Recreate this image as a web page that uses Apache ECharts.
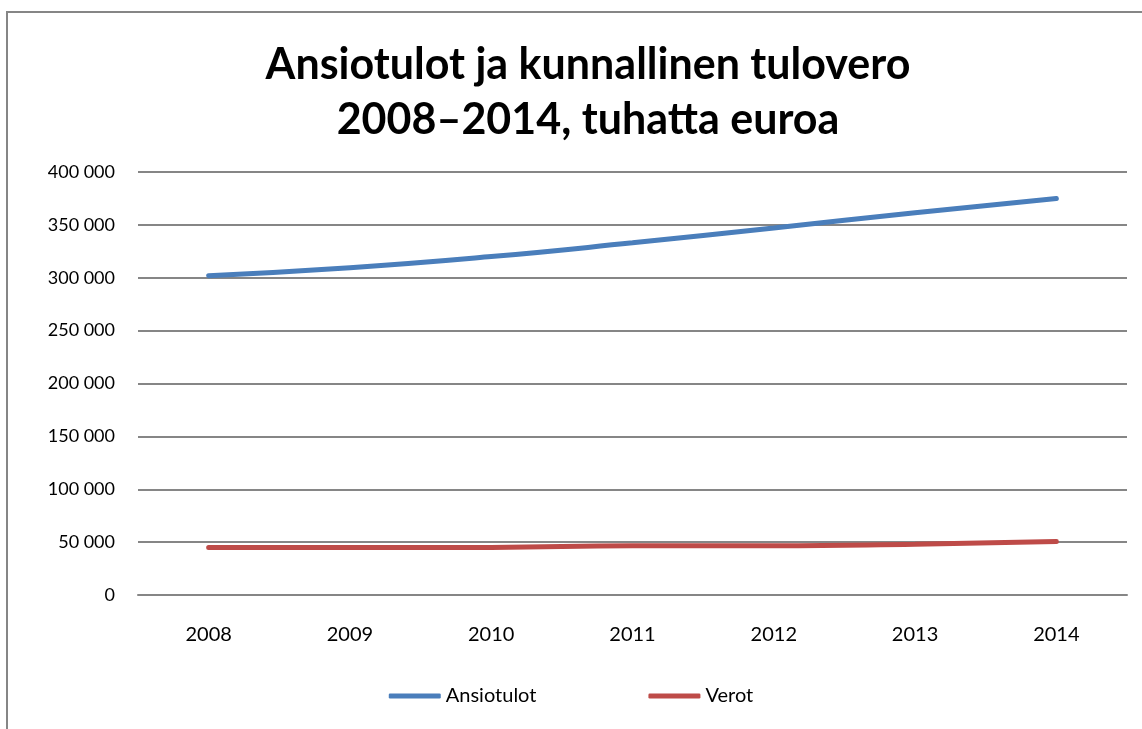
<!DOCTYPE html>
<html>
<head>
<meta charset="utf-8">
<script src="https://cdn.jsdelivr.net/npm/echarts@6/dist/echarts.min.js"></script>
<style>
html,body{margin:0;padding:0;background:#fff;}
#main{width:1142px;height:729px;}
</style>
</head>
<body>
<div id="main"></div>
<script>
// vuodet ja arvot (tuhatta euroa)
var years = ['2008', '2009', '2010', '2011', '2012', '2013', '2014'];
var ansiotulot = [302000, 309500, 320000, 333000, 347000, 361500, 375000];
var verot = [45000, 45000, 45000, 46500, 46500, 48000, 50500];
var yTicks = [0, 50000, 100000, 150000, 200000, 250000, 300000, 350000, 400000];

var fmt = function(v){
    return String(v).replace(/\B(?=(\d{3})+(?!\d))/g, ' ');
};

var myChart = echarts.init(document.getElementById('main'));
myChart.setOption({
    backgroundColor: '#fff',
    textStyle: {fontFamily: 'Lato'},
    graphic: [{
        type: 'rect',
        shape: {x: 7, y: 12, width: 1200, height: 800},
        style: {fill: 'none', stroke: '#868686', lineWidth: 2},
        silent: true
    }],
    title: {
        text: 'Ansiotulot ja kunnallinen tulovero\n2008–2014, tuhatta euroa',
        left: 583,
        textAlign: 'center',
        top: 33,
        textStyle: {fontSize: 43, fontWeight: 'bold', color: '#000', lineHeight: 55, fontFamily: 'Lato'}
    },
    legend: {
        bottom: 18,
        left: 'center',
        itemWidth: 52,
        itemHeight: 5,
        itemGap: 112,
        icon: 'roundRect',
        textStyle: {fontSize: 20, color: '#000', fontFamily: 'Lato'},
        data: ['Ansiotulot', 'Verot']
    },
    grid: {left: 138, right: 15, top: 172, bottom: 134, containLabel: false},
    xAxis: {
        type: 'category',
        data: years,
        boundaryGap: true,
        axisLine: {show: true, lineStyle: {color: '#868686', width: 2}},
        axisTick: {show: false},
        axisLabel: {fontSize: 20, color: '#000', margin: 30}
    },
    yAxis: {
        type: 'value',
        min: yTicks[0],
        max: yTicks[yTicks.length - 1],
        interval: 50000,
        axisLine: {show: false},
        axisTick: {show: false},
        splitLine: {lineStyle: {color: '#868686', width: 2}},
        axisLabel: {fontSize: 18, color: '#000', margin: 23, formatter: fmt}
    },
    series: [
        {
            name: 'Ansiotulot',
            type: 'line',
            data: ansiotulot,
            smooth: true,
            showSymbol: false,
            symbol: 'none',
            color: '#4a7ebb',
            lineStyle: {width: 5, color: '#4a7ebb', cap: 'round'}
        },
        {
            name: 'Verot',
            type: 'line',
            data: verot,
            smooth: true,
            showSymbol: false,
            symbol: 'none',
            color: '#be4b48',
            lineStyle: {width: 5, color: '#be4b48', cap: 'round'}
        }
    ]
});
</script>
</body>
</html>
